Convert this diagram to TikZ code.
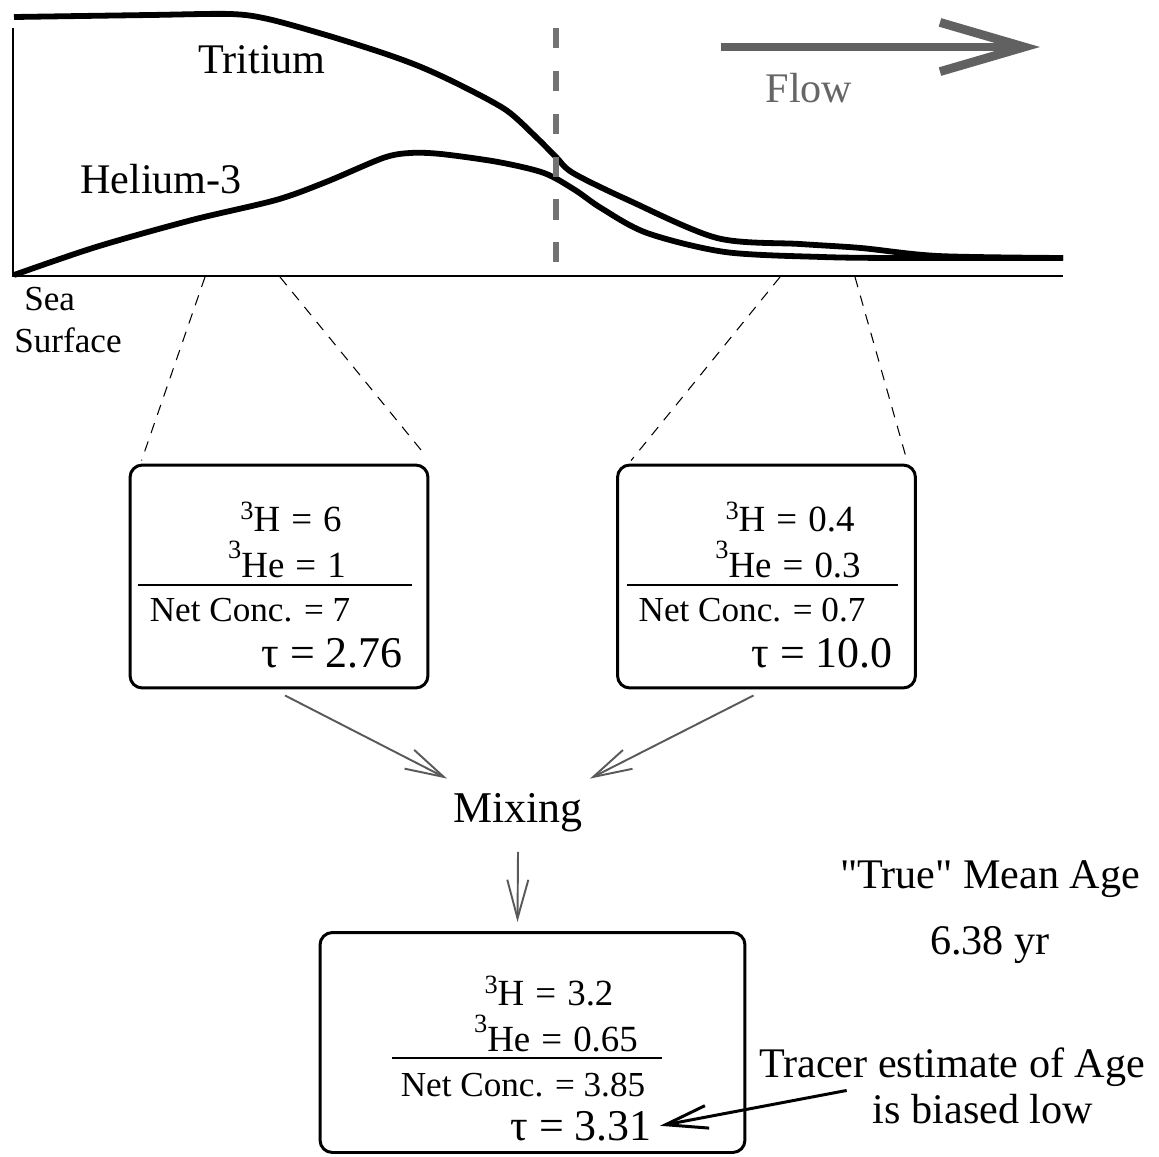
\documentclass[tikz,border=0pt]{standalone}
\usepackage{fontspec}
\setmainfont{Liberation Serif}
\usetikzlibrary{arrows.meta, positioning, calc}

% raised mass number in front of an element symbol
\newcommand{\nuc}[3][0.3em]{\raisebox{#1}{\fontsize{15}{15}\selectfont #2}#3}
\newcommand{\eq}{\hspace{0.3em}=\hspace{0.3em}}

\tikzset{
    tracebox/.style = {
        draw,
        line width=1.7pt,
        rounded corners=7pt,
        minimum width=5.96cm,
        minimum height=4.46cm,
        inner sep=0pt
    },
    boxtext/.style = {
        font=\fontsize{20}{22}\selectfont,
        inner sep=0pt,
        anchor=base
    },
    isotext/.style = {
        font=\fontsize{21}{23}\selectfont,
        inner sep=0pt,
        anchor=base
    },
    tautext/.style = {
        font=\fontsize{25}{27}\selectfont,
        inner sep=0pt,
        anchor=base
    },
    bigtext/.style = {
        font=\fontsize{24}{26}\selectfont,
        inner sep=0pt,
        anchor=base
    },
    curve/.style = {
        line width=3.3pt,
        line join=round
    },
    zoomline/.style = {
        line width=0.6pt,
        dash pattern=on 6pt off 5pt
    },
    mixarrow/.style = {
        draw,
        line width=1.1pt,
        black!65,
        -{Straight Barb[length=22pt, width=12pt]}
    }
}

\begin{document}
\begin{tikzpicture}[x=0.02cm, y=-0.02cm]
\useasboundingbox (0,0) rectangle (1159,1156);

% Axes
\draw[line width=1.1pt] (13,28) -- (13,276) -- (1063,276);

% Tracer curves
\draw[curve] plot[smooth, tension=0.5] coordinates {
    (14,17) (150,15) (230,14) (268,19) (326,35) (383,53) (421,67)
    (460,85) (506,110) (536,137) (556,157) (573,173) (628,200)
    (717,238) (800,244) (861,248) (938,256) (1063,258)};
\draw[curve] plot[smooth, tension=0.5] coordinates {
    (14,275) (96,247) (192,220) (276,200) (326,182) (383,158)
    (410,153) (441,154) (498,162) (544,173) (575,190) (601,208)
    (647,233) (725,252) (822,257) (900,258) (1063,258)};

% Section marker
\draw[black!55, line width=3.4pt, dash pattern=on 11.4pt off 13pt] (556,28) -- (556,266);

% Flow arrow
\coordinate (flowS) at (721,47);
\coordinate (flowE) at (1040,47);
\draw[black!62, line width=5pt, -{Straight Barb[length=48pt, width=28pt]}] (flowS) -- (flowE);
\node[bigtext, text=black!60] (flow) at (809,102) {Flow};

% Curve labels
\node[bigtext] (trit) at (262,73) {Tritium};
\node[bigtext] (hel) at (161,193) {Helium-3};
\node[font=\fontsize{20}{22}\selectfont, inner sep=0pt, anchor=base west] (sea) at (24,310) {Sea};
\node[font=\fontsize{20}{22}\selectfont, inner sep=0pt, anchor=base west] (surf) at (14,352) {Surface};

% Sample boxes
\node[tracebox] (boxL) at (279,576.5) {};
\node[tracebox] (boxR) at (766.5,576.5) {};
\node[tracebox, minimum width=8.5cm, minimum height=4.4cm] (boxB) at (532.5,1042.5) {};

% Zoom lines from the section to the boxes
\coordinate (ax1) at (205,277);
\coordinate (ax2) at (280,277);
\coordinate (ax3) at (780,277);
\coordinate (ax4) at (855,277);
\draw[zoomline] (ax1) -- ($(boxL.north west)+(13,-3)$);
\draw[zoomline] (ax2) -- ($(boxL.north east)+(-8,-13)$);
\draw[zoomline] (ax3) -- ($(boxR.north west)+(15,-3)$);
\draw[zoomline] (ax4) -- ($(boxR.north east)+(-10,-3)$);

% Left box
\node[isotext] (hL) at (291,531) {\nuc{3}{H}\eq 6};
\node[isotext] (heL) at (287,577) {\nuc[0.5em]{3}{He}\eq 1};
\draw[line width=0.9pt] (138,585) -- (412,585);
\node[boxtext] (netL) at (250,621) {Net Conc. = 7};
\node[tautext] (tauL) at (332,667) {τ = 2.76};

% Right box
\node[isotext] (hR) at (790,531) {\nuc{3}{H}\eq 0.4};
\node[isotext] (heR) at (788,577) {\nuc[0.5em]{3}{He}\eq 0.3};
\draw[line width=0.9pt] (627,585) -- (898,585);
\node[boxtext] (netR) at (752,621) {Net Conc. = 0.7};
\node[tautext] (tauR) at (822,667) {τ = 10.0};

% Mixing
\node[bigtext, font=\fontsize{25}{27}\selectfont] (mix) at (518,822) {Mixing};
\draw[mixarrow] ($(boxL.south)+(6,6)$) -- ($(mix.north)+(-71,-14)$);
\draw[mixarrow] ($(boxR.south)+(-13,6)$) -- ($(mix.north)+(72,-14)$);
\draw[mixarrow] ($(mix.south)+(0,20)$) -- ($(boxB.north)+(-15,-9)$);

% Bottom box
\node[isotext] (hB) at (549,1005) {\nuc{3}{H}\eq 3.2};
\node[isotext] (heB) at (556,1051) {\nuc[0.5em]{3}{He}\eq 0.65};
\draw[line width=0.9pt] (392,1058) -- (662,1058);
\node[boxtext] (netB) at (523,1096) {Net Conc. = 3.85};
\node[tautext] (tauB) at (581,1140) {τ = 3.31};

% True age
\node[bigtext] (true) at (990,888) {\textquotedbl True\textquotedbl{} Mean Age};
\node[bigtext, anchor=north, below=0.58cm of true] (age) {6.38 yr};

% Tracer estimate
\node[bigtext] (tracer) at (952,1077) {Tracer estimate of Age};
\node[bigtext] (biased) at (983,1123) {is biased low};
\draw[line width=1.7pt, -{Straight Barb[length=24pt, width=13pt]}] ($(tracer.south west)+(88,4)$) -- ($(tauB.east)+(8,0)$);

\end{tikzpicture}
\end{document}
